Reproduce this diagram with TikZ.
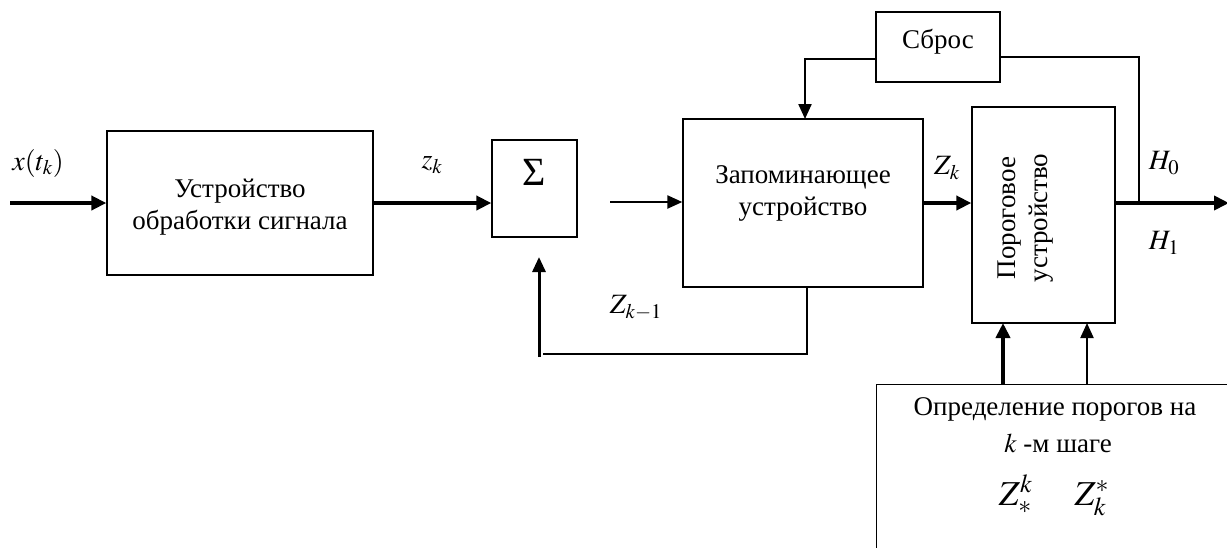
\documentclass[tikz,border=0pt]{standalone}
\usepackage{mathptmx}
\usepackage{fontspec}
\setmainfont{Liberation Serif}
\usetikzlibrary{arrows.meta}
\begin{document}
\begin{tikzpicture}[x=1pt,y=-1pt,
  blk/.style={draw, line width=1.3pt, inner sep=0pt},
  txt/.style={font=\fontsize{27}{32}\selectfont, align=center, inner sep=0pt},
  lbl/.style={font=\fontsize{28}{32}\selectfont, inner sep=0pt},
  heavy/.style={line width=4pt, -{Triangle[length=15pt,width=14pt]}},
  medium/.style={line width=2.2pt, -{Triangle[length=15pt,width=13pt]}},
  light/.style={line width=1.3pt}
]
\useasboundingbox (0,0) rectangle (1227,547);
\clip (0,0) rectangle (1227,547);

% blocks
\node[blk, minimum width=266pt, minimum height=144pt] (b1) at (240,203) {};
\node[txt] (b1t) at (240,207) {Устройство\\обработки сигнала};
\node[blk, minimum width=85pt, minimum height=97pt] (sum) at (534.5,188.5) {};
\node[inner sep=0pt, font=\fontsize{40}{40}\selectfont] (sig) at (534.5,172) {Σ};
\node[blk, minimum width=240pt, minimum height=168pt] (zap) at (803,203) {};
\node[txt] (zapt) at (803,193) {Запоминающее\\устройство};
\node[blk, minimum width=124pt, minimum height=70pt] (sbr) at (938,47) {};
\node[txt] (sbrt) at (938,42) {Сброс};
\node[blk, minimum width=143pt, minimum height=216pt] (por) at (1043.5,215) {};
\node[txt, rotate=90] (port) at (1026,218) {Пороговое\\устройство};
\node[blk, minimum width=400pt, minimum height=220pt, anchor=north west] (opr) at (876,384) {};
\node[txt, anchor=base] (opr1) at (1055,415) {Определение порогов на};
\node[txt, anchor=base] (opr2) at (1058,452) {$k$ -м шаге};
\node[txt, anchor=base, font=\fontsize{35}{40}\selectfont] (opr3) at (1054,505) {$Z_*^k$\hspace{1.2em}$Z_k^*$};

% free ends
\coordinate (in) at (10,203);
\coordinate (s0) at (610,202);
\coordinate (out) at (1229,203);
\coordinate (rj) at (1139,203);
\coordinate (fb) at (539,357);

% connectors
\draw[heavy] (in) -- (b1.west |- in);
\draw[heavy] (b1.east |- in) -- (sum.west |- in);
\draw[medium] (s0) -- (zap.west |- s0);
\draw[heavy] (zap.east |- in) -- (por.west |- in);
\draw[heavy] (por.east |- in) -- (out);
\draw[medium] (sbr.west |- 0,59) -- (805,59) -- (805,119);
\draw[light] (sbr.east |- 0,57) -- (1139,57) -- (rj);
\draw[light] (807,287) -- (807,354) -- (543,354);
\draw[line width=3pt, -{Triangle[length=15pt,width=13pt]}] (fb) -- (539,257);
\draw[heavy] (1003,384) -- (1003,323);
\draw[medium] (1087,384) -- (1087,323);

% labels
\node[lbl] (lx) at (38,163) {$x(t_k)$};
\node[lbl] (lz) at (432,165) {$z_k$};
\node[lbl] (lzk) at (947,168) {$Z_k$};
\node[lbl] (lzk1) at (636,308) {$Z_{k-1}$};
\node[lbl] (lh0) at (1164,163) {$H_0$};
\node[lbl] (lh1) at (1164,243) {$H_1$};
\end{tikzpicture}
\end{document}
